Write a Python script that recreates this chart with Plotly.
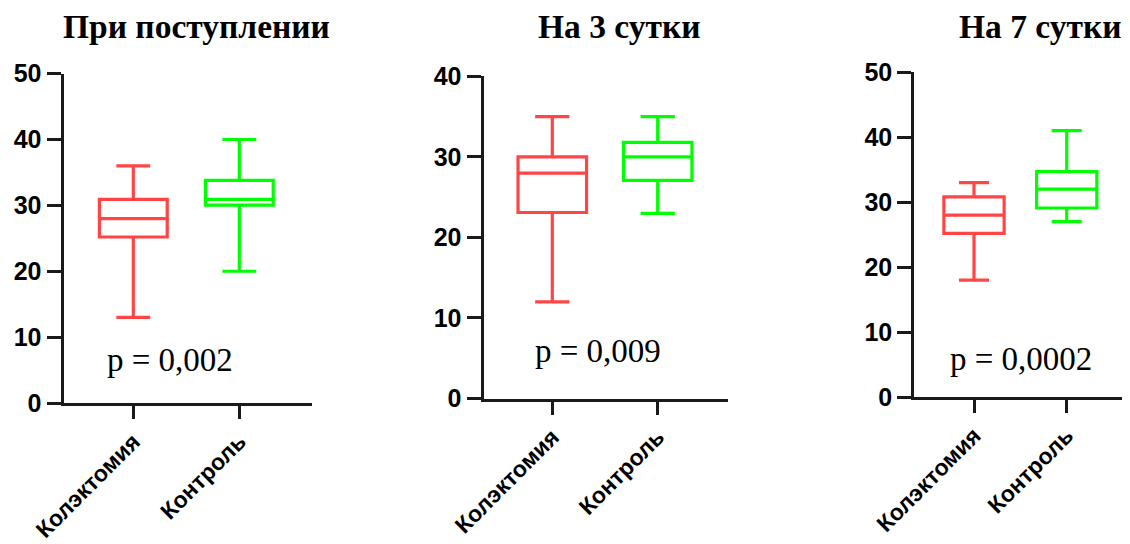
import plotly.graph_objects as go

categories = ["Колэктомия", "Контроль"]
titles = ["При поступлении", "На 3 сутки", "На 7 сутки"]
p_values = ["p = 0,002", "p = 0,009", "p = 0,0002"]

# [low whisker, Q1, median, Q3, high whisker] per group, per panel
colectomy = [
    [13, 25.2, 28, 30.9, 36],
    [12, 23.1, 28, 30, 35],
    [18, 25.2, 28, 30.8, 33],
]
control = [
    [20, 30.05, 30.9, 33.8, 40],
    [23, 27.1, 30, 31.8, 35],
    [27, 29.1, 32, 34.7, 41],
]
y_max = [50, 40, 50]
y_ticks = [[0, 10, 20, 30, 40, 50], [0, 10, 20, 30, 40], [0, 10, 20, 30, 40, 50]]

RED = "#FF4545"
GREEN = "#00FF00"
AXIS = "#1a1a1a"

W, H = 1130, 544
OFF = 8      # page body margin
LW = 3       # axis line width
# page-pixel layout: (axis_x, x_end, zero_y, top_y, cat0_px, cat_spacing_px)
panels = [
    (62, 312, 404.5, 73.6, 133.3, 106.0),
    (482, 728, 400.0, 76.4, 552.3, 105.4),
    (912.7, 1138, 398.6, 72.2, 974.0, 92.7),
]
box_w = [0.64, 0.65, 0.65]
title_pos = [(196.7, 27), (619.7, 27), (1040.5, 27)]
p_pos = [(170, 360), (598, 351), (1020.5, 359)]

fig = go.Figure()
layout = dict(
    width=W, height=H, margin=dict(l=0, r=0, t=0, b=0, autoexpand=False),
    paper_bgcolor="white", plot_bgcolor="white", showlegend=False,
    boxmode="overlay", template="none",
)
annotations = []
for i in range(3):
    ax_x, x_end, zero_y, top_y, c0, sp = panels[i]
    sfx = "" if i == 0 else str(i + 1)
    xa, ya = "x" + sfx, "y" + sfx
    for vals, col, cat in [(colectomy[i], RED, categories[0]), (control[i], GREEN, categories[1])]:
        lo, q1, med, q3, hi = vals
        fig.add_trace(go.Box(
            x=[cat], q1=[q1], median=[med], q3=[q3], lowerfence=[lo], upperfence=[hi],
            line=dict(color=col, width=3.2), fillcolor="rgba(255,255,255,0)",
            whiskerwidth=0.5, width=box_w[i],
            boxpoints=False, xaxis=xa, yaxis=ya, hoverinfo="skip",
        ))
    dl_page = ax_x + LW / 2
    d_left = (dl_page - OFF) / W
    d_right = min((x_end - OFF) / W, 1.0)
    dr_page = d_right * W + OFF
    x0 = (dl_page - c0) / sp
    x1 = (dr_page - c0) / sp
    d_bot = 1 - (zero_y - LW / 2 - OFF) / H
    d_top = 1 - (top_y - OFF) / H
    layout["xaxis" + sfx] = dict(
        domain=[d_left, d_right], range=[x0, x1], anchor=ya, automargin=False,
        type="category", categoryorder="array", categoryarray=categories,
        showline=True, linecolor=AXIS, linewidth=LW, ticks="outside", ticklen=13,
        tickwidth=3, tickcolor=AXIS, tickangle=-45, showgrid=False, zeroline=False,
        tickfont=dict(family="Liberation Sans", size=23, color="black", weight="bold"),
    )
    layout["yaxis" + sfx] = dict(
        domain=[d_bot, d_top], range=[0, y_max[i]], anchor=xa,
        automargin=False,
        tickvals=y_ticks[i], showline=True, linecolor=AXIS, linewidth=LW,
        ticks="outside", ticklen=14, tickwidth=3, tickcolor=AXIS,
        showgrid=False, zeroline=False,
        tickfont=dict(family="Liberation Sans", size=25, color="black", weight="bold"),
    )
    tx, ty = title_pos[i]
    annotations.append(dict(
        text=titles[i], x=(tx - OFF) / W, y=1 - (ty - OFF) / H, xref="paper", yref="paper",
        xanchor="center", yanchor="middle", showarrow=False,
        font=dict(family="Liberation Serif", size=33.5, color="black", weight="bold"),
    ))
    px, py = p_pos[i]
    annotations.append(dict(
        text=p_values[i], x=(px - OFF) / W, y=1 - (py - OFF) / H, xref="paper", yref="paper",
        xanchor="center", yanchor="middle", showarrow=False,
        font=dict(family="Liberation Serif", size=33, color="black"),
    ))
layout["annotations"] = annotations
fig.update_layout(**layout)
fig.write_html("out.html")
